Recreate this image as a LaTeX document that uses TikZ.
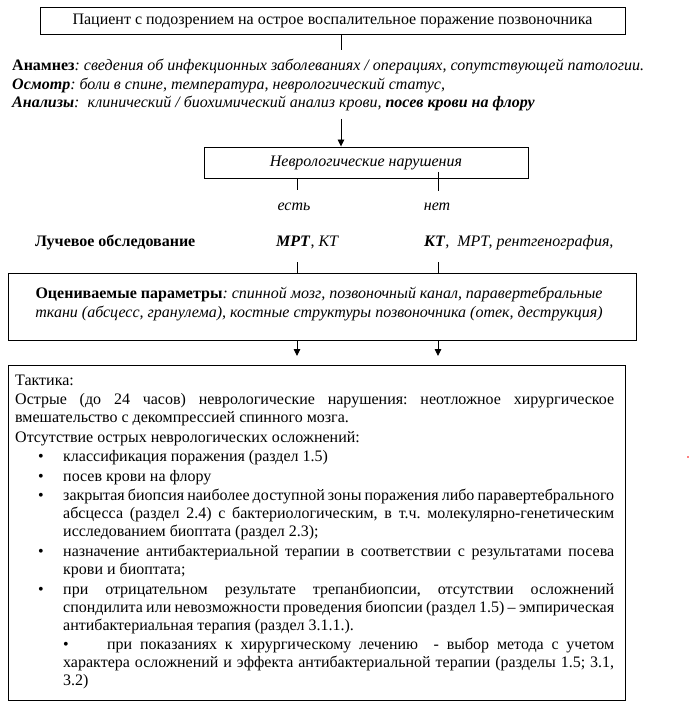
\documentclass[tikz,border=0pt]{standalone}
\usepackage{fontspec}
\setmainfont{Liberation Serif}
\usetikzlibrary{arrows.meta}
\frenchspacing
\newcommand{\bitem}[1]{{\leftskip=48pt\noindent\llap{\makebox[25pt][l]{•}}#1\par}}
\begin{document}
\begin{tikzpicture}[x=1pt,y=-1pt,
  box/.style={draw, line width=0.9pt, inner sep=0pt},
  conn/.style={line width=0.9pt},
  arr/.style={conn, -{Triangle[length=7pt,width=6.5pt]}},
  txt/.style={inner sep=0pt, font=\fontsize{16}{18.1}\selectfont\frenchspacing}
]
\useasboundingbox (0,0) rectangle (690,703);
\fill[white] (0,0) rectangle (690,703);

% top box
\node[box, txt, minimum width=585pt, minimum height=27pt] (top) at (332.5,20.5)
  {Пациент с подозрением на острое воспалительное поражение позвоночника};
\coordinate (c1) at (341,50);
\draw[conn] (top.south -| c1) -- (c1);

% anamnesis
\node[txt, anchor=base west] (an1) at (12,71)
  {\textbf{Анамнез}\textit{: сведения об инфекционных заболеваниях / операциях, сопутствующей патологии.}};
\node[txt, anchor=base west] (an2) at (12,90)
  {\textbf{\textit{Осмотр}}\textit{: боли в спине, температура, неврологический статус,}};
\node[txt, anchor=base west] (an3) at (12,108)
  {\textbf{\textit{Анализы}}\textit{:\ \ клинический / биохимический анализ крови, \textbf{посев крови на флору}}};

% neuro box
\node[box, txt, minimum width=324pt, minimum height=31pt] (neuro) at (366,162.5)
  {\textit{Неврологические нарушения}};
\coordinate (c2) at (341,119);
\draw[arr] (c2) -- (c2 |- neuro.north);

\coordinate (s1) at (297,190);
\draw[conn] (s1 |- neuro.south) -- (s1);
\coordinate (s2a) at (438,172);
\coordinate (s2) at (438,191);
\draw[conn] (s2a) -- (s2);

\node[txt, anchor=base] (yes) at (294,211) {\textit{есть}};
\node[txt, anchor=base] (no) at (437,211) {\textit{нет}};

\node[txt, anchor=base west] (ray) at (35,246) {\textbf{Лучевое обследование}};
\node[txt, anchor=base west] (ray1) at (276,246) {\textbf{\textit{МРТ}}, \textit{КТ}};
\node[txt, anchor=base west] (ray2) at (424,246) {\textbf{\textit{КТ}}\textit{,\ \ МРТ, рентгенография,}};

% params box
\node[box, minimum width=628pt, minimum height=67pt] (par) at (322,306.5) {};
\coordinate (t1) at (297,262);
\coordinate (t2) at (438,262);
\draw[conn] (t1) -- (t1 |- par.north);
\draw[conn] (t2) -- (t2 |- par.north);
\node[txt, anchor=base] (p1) at (319,298)
  {\textbf{Оцениваемые параметры}\textit{: спинной мозг, позвоночный канал, паравертебральные}};
\node[txt, anchor=base] (p2) at (319,317)
  {\textit{ткани (абсцесс, гранулема), костные структуры позвоночника (отек, деструкция)}};

\coordinate (a1) at (297,356);
\coordinate (a2) at (438,356);
\draw[arr] (a1 |- par.south) -- (a1);
\draw[arr] (a2 |- par.south) -- (a2);

% tactics box
\node[box, minimum width=617pt, minimum height=335pt] (tac) at (316.5,532.5) {};
\node[txt, anchor=north west, text width=599pt, align=justify] (tactxt) at (15,374.5) {%
\parskip=1.4pt\parindent=0pt\hbadness=10000\frenchspacing
Тактика:\par
Острые (до 24 часов) неврологические нарушения: неотложное хирургическое\linebreak
вмешательство с декомпрессией спинного мозга.\par
Отсутствие острых неврологических осложнений:\par
\bitem{классификация поражения (раздел 1.5)}
\bitem{посев крови на флору}
\bitem{закрытая биопсия наиболее доступной зоны поражения либо паравертебрального\linebreak
абсцесса (раздел 2.4) с бактериологическим, в т.ч. молекулярно-генетическим\linebreak
исследованием биоптата (раздел 2.3);}
\bitem{назначение антибактериальной терапии в соответствии с результатами посева\linebreak
крови и биоптата;}
\bitem{при отрицательном результате трепанбиопсии, отсутствии осложнений\linebreak
спондилита или невозможности проведения биопсии (раздел 1.5) – эмпирическая\linebreak
антибактериальная терапия (раздел 3.1.1.).}
{\leftskip=48pt\noindent\makebox[44pt][l]{•}при показаниях к хирургическому лечению\ \ - выбор метода с учетом\linebreak
характера осложнений и эффекта антибактериальной терапии (разделы 1.5; 3.1,\linebreak
3.2)\par}
};

\fill[red] (688,457) circle (0.8pt);
\end{tikzpicture}
\end{document}
